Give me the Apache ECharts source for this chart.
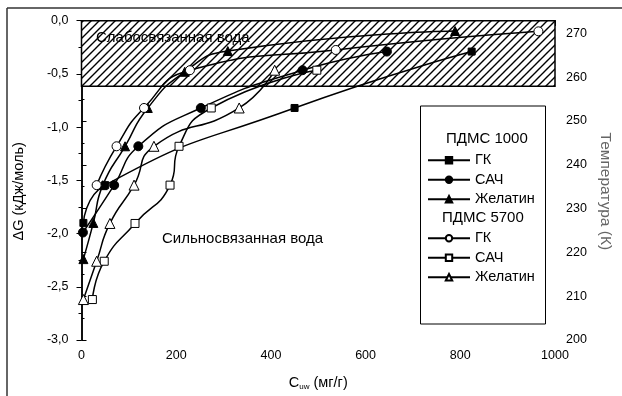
<!DOCTYPE html>
<html><head><meta charset="utf-8">
<script src="https://cdn.jsdelivr.net/npm/echarts@6/dist/echarts.min.js"></script>
<style>html,body{margin:0;padding:0;background:#fff}#c{width:622px;height:396px}</style>
</head><body><div id="c"></div>
<script>
// ---- data (C_uw, mg/g ; ΔG, kJ/mol) ----
const gk1000   = [[4,-1.9],[50,-1.545],[450,-0.82],[824,-0.29]];
const sach1000 = [[3,-1.99],[69,-1.545],[120,-1.18],[252,-0.82],[467,-0.465],[645,-0.29]];
const gel1000  = [[4,-2.24],[25,-1.9],[45,-1.545],[92,-1.18],[140,-0.82],[218,-0.48],[309,-0.285],[789,-0.097]];
const gk5700   = [[32,-1.545],[74,-1.18],[132,-0.82],[229,-0.465],[537,-0.275],[965,-0.1]];
const sach5700 = [[23,-2.62],[48,-2.26],[113,-1.905],[187,-1.545],[206,-1.18],[274,-0.82],[497,-0.465]];
const gel5700  = [[4,-2.62],[32,-2.26],[60,-1.905],[111,-1.545],[153,-1.18],[333,-0.82],[408,-0.465]];
const weakBoundZone = [0, -0.615];
const xTicks = [0, 1000, 200];
const yTicks = [-3, 0, 0.5];
const tTicks = [200, 272.9, 10];

const FONT = 'Liberation Sans, Arial, sans-serif';
const chart = echarts.init(document.getElementById('c'));

// hatch pattern
const pc = document.createElement('canvas');
pc.width = 8; pc.height = 8;
const g = pc.getContext('2d');
g.fillStyle = '#fff'; g.fillRect(0,0,8,8);
g.strokeStyle = '#000'; g.lineWidth = 1.4;
g.beginPath();
g.moveTo(-1,9); g.lineTo(9,-1);
g.moveTo(-2,2); g.lineTo(2,-2);
g.moveTo(6,10); g.lineTo(10,6);
g.stroke();

function mk(name, data, symbol, filled, size) {
  return {
    name, type: 'line', data, xAxisIndex: 0, yAxisIndex: 0,
    smooth: 0.55,
    symbol, symbolSize: size, showSymbol: true,
    lineStyle: {color: '#000', width: 1.5},
    itemStyle: {color: filled ? '#000' : '#fff', borderColor: '#000', borderWidth: 1},
    z: 3
  };
}

const comma = v => v.toFixed(1).replace('.', ',');

chart.setOption({
  animation: false,
  grid: {left: 81.5, right: 67, top: 20.7, bottom: 56},
  xAxis: [{
    type: 'value', min: xTicks[0], max: xTicks[1], interval: xTicks[2], position: 'bottom',
    axisLine: {lineStyle: {color: '#000', width: 1.5}},
    axisTick: {length: 5, lineStyle: {color: '#000', width: 1}},
    minorTick: {show: true, splitNumber: 2, length: 3, lineStyle: {color: '#000'}},
    splitLine: {show: false},
    axisLabel: {color: '#000', fontSize: 12.5, fontFamily: FONT, margin: 9, formatter: v => String(v)},
    name: '{a|C}{b|uw}{a| (мг/г)}', nameLocation: 'middle', nameGap: 35,
    nameTextStyle: {rich: {
      a: {fontSize: 14.5, fontFamily: FONT, color: '#000'},
      b: {fontSize: 8, fontFamily: FONT, color: '#000', verticalAlign: 'bottom', padding: [8,0,0,0]}
    }}
  }, {
    type: 'value', min: xTicks[0], max: xTicks[1], interval: xTicks[2], position: 'top',
    axisLine: {lineStyle: {color: '#000', width: 1.5}},
    axisTick: {inside: true, length: 5, lineStyle: {color: '#000'}},
    axisLabel: {show: false}, splitLine: {show: false}
  }],
  yAxis: [{
    type: 'value', min: yTicks[0], max: yTicks[1], interval: yTicks[2], position: 'left',
    axisLine: {show: true, lineStyle: {color: '#000', width: 1.5}},
    axisTick: {show: true, length: 5, lineStyle: {color: '#000'}},
    minorTick: {show: true, splitNumber: 2, length: 3, lineStyle: {color: '#000'}},
    splitLine: {show: false},
    axisLabel: {color: '#000', fontSize: 12.5, fontFamily: FONT, margin: 13, formatter: comma},
    name: 'ΔG (кДж/моль)', nameLocation: 'middle', nameGap: 55,
    nameTextStyle: {fontSize: 14.5, fontFamily: FONT, color: '#000', padding: [0, 22, 0, 0]}
  }, {
    type: 'value', min: tTicks[0], max: tTicks[1], interval: tTicks[2], position: 'right',
    axisLine: {show: true, lineStyle: {color: '#000', width: 1.5}},
    axisTick: {show: true, length: 5, lineStyle: {color: '#000'}},
    minorTick: {show: true, splitNumber: 2, length: 3, lineStyle: {color: '#000'}},
    splitLine: {show: false},
    axisLabel: {color: '#000', fontSize: 12.5, fontFamily: FONT, margin: 11, showMaxLabel: false,
      formatter: v => (Math.abs(v % 10) < 1e-6 ? String(v) : '')},
    name: 'Температура (К)', nameLocation: 'middle', nameGap: 41, nameRotate: -90,
    nameTextStyle: {fontSize: 15.5, fontFamily: FONT, color: '#666', padding: [0, 0, 0, 22]}
  }],
  legend: [{
    data: ['ГК 1000', 'САЧ 1000', 'Желатин 1000'],
    orient: 'vertical', left: 422, top: 147, itemWidth: 42, itemHeight: 8, itemGap: 3,
    formatter: n => n.split(' ')[0],
    textStyle: {fontSize: 14.5, fontFamily: FONT, color: '#000', lineHeight: 16.5}
  }, {
    data: ['ГК 5700', 'САЧ 5700', 'Желатин 5700'],
    orient: 'vertical', left: 422, top: 225, itemWidth: 42, itemHeight: 8, itemGap: 3,
    formatter: n => n.split(' ')[0],
    textStyle: {fontSize: 14.5, fontFamily: FONT, color: '#000', lineHeight: 16.5}
  }],
  series: [
    {
      type: 'line', data: [], silent: true,
      markArea: {
        silent: true,
        itemStyle: {color: {image: pc, repeat: 'repeat'}, borderColor: '#000', borderWidth: 1.5},
        data: [[{xAxis: 'min', yAxis: weakBoundZone[0]}, {xAxis: 'max', yAxis: weakBoundZone[1]}]]
      }
    },
    mk('ГК 1000', gk1000, 'rect', true, 7),
    mk('САЧ 1000', sach1000, 'circle', true, 9),
    mk('Желатин 1000', gel1000, 'triangle', true, 9),
    mk('ГК 5700', gk5700, 'circle', false, 9),
    mk('САЧ 5700', sach5700, 'rect', false, 8),
    mk('Желатин 5700', gel5700, 'triangle', false, 10)
  ],
  graphic: [
    {type: 'line', shape: {x1: 7, y1: 8, x2: 622, y2: 8}, style: {stroke: '#333', lineWidth: 1.5}},
    {type: 'line', shape: {x1: 7, y1: 8, x2: 7, y2: 396}, style: {stroke: '#333', lineWidth: 1.5}},
    {type: 'text', left: 96, top: 30, z: 10,
      style: {text: 'Слабосвязанная вода', fontSize: 15, fontFamily: FONT, fill: '#000'}},
    {type: 'text', left: 162, top: 231, z: 10,
      style: {text: 'Сильносвязанная вода', fontSize: 15, fontFamily: FONT, fill: '#000'}},
    {type: 'rect', shape: {x: 420.5, y: 106, width: 125, height: 218}, z: -1,
      style: {fill: '#fff', stroke: '#000', lineWidth: 1}},
    {type: 'text', left: 446, top: 131, style: {text: 'ПДМС 1000', fontSize: 15, fontFamily: FONT, fill: '#000'}},
    {type: 'text', left: 442, top: 210, style: {text: 'ПДМС 5700', fontSize: 15, fontFamily: FONT, fill: '#000'}}
  ]
});
</script></body></html>
